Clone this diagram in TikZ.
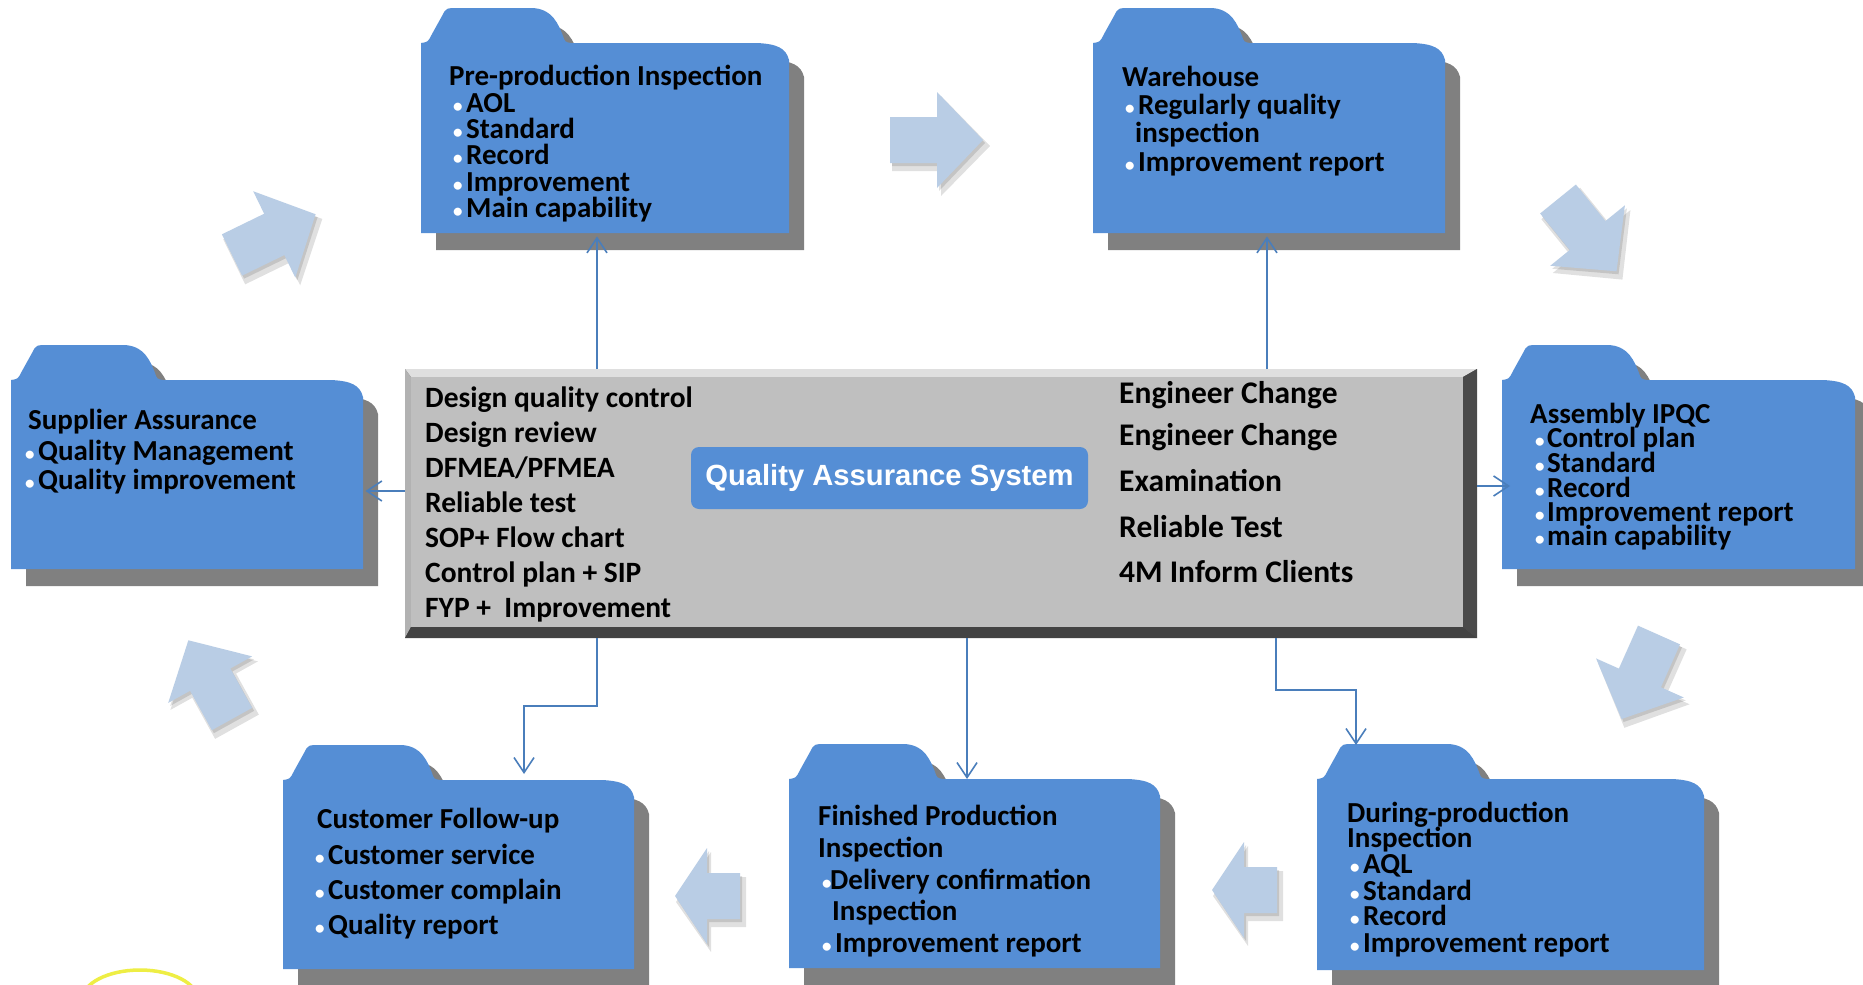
\documentclass[tikz,border=0pt]{standalone}
\usepackage{fontspec}
\setmainfont{Carlito}
\newfontfamily\qafont{Liberation Sans}
\usetikzlibrary{arrows.meta,calc}
\definecolor{fblue}{HTML}{558ED5}
\definecolor{cline}{HTML}{4A7EBB}
\definecolor{barrowc}{HTML}{B9CDE5}
\definecolor{fshadow}{HTML}{808080}
\definecolor{ygold}{HTML}{EEEE44}
\newcount\tn
\tikzset{
  ftext/.style={anchor=base west, inner sep=0pt, font=\fontsize{29}{32}\selectfont\bfseries, text=black},
  btext/.style={anchor=base west, inner sep=0pt, font=\fontsize{19}{20}\selectfont\bfseries, text=white},
  ctext/.style={anchor=base west, inner sep=0pt, font=\fontsize{29.5}{32}\selectfont\bfseries, text=black},
  rtext/.style={anchor=base west, inner sep=0pt, font=\fontsize{31.5}{34}\selectfont\bfseries, text=black},
  conn/.style={draw=cline, line width=1.6pt, -{Straight Barb[length=15pt,width=20pt,line width=1.6pt]}},
  holder/.style={inner sep=0pt, anchor=north west}
}
\newcommand\ftx[3]{\global\advance\tn by 1 \node[ftext] (t\the\tn) at (#1,#2) {#3};}
\newcommand\fbl[4]{\global\advance\tn by 1 \node[btext] (t\the\tn) at (#1,#3) {•};
  \global\advance\tn by 1 \node[ftext] (t\the\tn) at (#2,#3) {#4};}
\newcommand\ctx[4]{\global\advance\tn by 1 \node[#1] (t\the\tn) at (#2,#3) {#4};}
% folder: name L T R B tabwidth
\newcommand\folder[6]{%
  \begin{scope}[shift={(15,17)}]
  \fill[fshadow] (#2,#3+35) .. controls (#2+7,#3+34) .. (#2+11,#3+26) -- (#2+21,#3+8) .. controls (#2+25,#3) .. (#2+38,#3) -- (#2+#6-40,#3) .. controls (#2+#6-18,#3) and (#2+#6-12,#3+18) .. (#2+#6-8,#3+28) .. controls (#2+#6-6,#3+34) .. (#2+#6,#3+35) -- (#4-32,#3+35) .. controls (#4-12,#3+36) and (#4-3,#3+40) .. (#4,#3+52) -- (#4,#5) -- (#2,#5) -- cycle;
  \end{scope}
  \fill[fblue] (#2,#3+35) .. controls (#2+7,#3+34) .. (#2+11,#3+26) -- (#2+21,#3+8) .. controls (#2+25,#3) .. (#2+38,#3) -- (#2+#6-40,#3) .. controls (#2+#6-18,#3) and (#2+#6-12,#3+18) .. (#2+#6-8,#3+28) .. controls (#2+#6-6,#3+34) .. (#2+#6,#3+35) -- (#4-32,#3+35) .. controls (#4-12,#3+36) and (#4-3,#3+40) .. (#4,#3+52) -- (#4,#5) -- (#2,#5) -- cycle;
  \node[holder, minimum width={#4-#2}, minimum height={#5-#3-35}] (#1) at (#2,#3+35) {};
}
% block arrow: x y angle headstart tip
\newcommand\barrow[5]{%
  \begin{scope}[shift={(#1+4,#2+6)}, rotate=#3]
    \fill[black, opacity=0.12] (-2,-25) -- (#4,-25) -- (#4,-50) -- (#5+3,0) -- (#4,50) -- (#4,25) -- (-2,25) -- cycle;
  \end{scope}
  \begin{scope}[shift={(#1+2,#2+3)}, rotate=#3]
    \fill[black, opacity=0.12] (0,-23) -- (#4,-23) -- (#4,-48) -- (#5,0) -- (#4,48) -- (#4,23) -- (0,23) -- cycle;
  \end{scope}
  \begin{scope}[shift={(#1,#2)}, rotate=#3]
    \fill[barrowc] (0,-23) -- (#4,-23) -- (#4,-48) -- (#5,0) -- (#4,48) -- (#4,23) -- (0,23) -- cycle;
  \end{scope}
}
\begin{document}
\begin{tikzpicture}[x=1pt, y=-1pt]
\useasboundingbox (0,0) rectangle (1863,985);
\fill[white] (0,0) rectangle (1863,985);
\begin{scope}
\clip (0,0) rectangle (1863,985);
% yellow arc
\draw[ygold, line width=3.5pt] (140,1000) ellipse [x radius=58, y radius=30];
% block arrows
\barrow{890}{140}{0}{47}{93}
\barrow{232}{255}{26}{47}{93}
\barrow{1558}{199}{-51}{47}{93}
\barrow{1659}{635}{-114}{47}{92}
\barrow{1277}{890}{180}{33}{65}
\barrow{740}{896}{180}{33}{65}
\barrow{232}{719}{119}{45}{90}
% folders
\folder{pre}{421}{8}{789}{233}{150}
\folder{ware}{1093}{8}{1445}{233}{157}
\folder{sup}{11}{345}{363}{569}{152}
\folder{asm}{1502}{345}{1855}{569}{145}
\folder{dur}{1317}{744}{1704}{970}{170}
\folder{fin}{789}{744}{1160}{968}{154}
\folder{cust}{283}{745}{634}{969}{157}
\end{scope}
% centre bevelled box
\node[holder, minimum width=1072pt, minimum height=269pt] (qa) at (405,369) {};
\fill[gray!50!black!80] (405,369) rectangle (1477,638);
\fill[gray!25] (405,369) -- (1477,369) -- (1463,377) -- (411,377) -- cycle;
\fill[gray!60] (405,369) -- (411,377) -- (411,627) -- (405,638) -- cycle;
\fill[gray!95!white!55!black] (1477,369) -- (1463,377) -- (1463,627) -- (1477,638) -- cycle;
\fill[gray!95!white!50!black] (405,638) -- (411,627) -- (1463,627) -- (1477,638) -- cycle;
\fill[gray!50] (411,377) rectangle (1463,627);
% connectors
\coordinate (x1) at (597,0);
\coordinate (x2) at (1267,0);
\coordinate (x3) at (967,0);
\coordinate (x4) at (1276,0);
\coordinate (y1) at (0,491);
\coordinate (y2) at (0,486);
\coordinate (j1) at (524,706);
\coordinate (j2) at (1356,690);
\draw[conn] (qa.north -| x1) -- ([yshift=-3pt]pre.south -| x1);
\draw[conn] (qa.north -| x2) -- ([yshift=-3pt]ware.south -| x2);
\draw[conn] (qa.west |- y1) -- ([xshift=2pt]sup.east |- y1);
\draw[conn] (qa.east |- y2) -- ([xshift=8pt]asm.west |- y2);
\draw[conn] (qa.south -| x1) |- (j1) -- ([yshift=6pt]cust.north -| j1);
\draw[conn] (qa.south -| x3) -- (fin.north -| x3);
\draw[conn] (qa.south -| x4) |- (j2) -- ([yshift=34pt]dur.north -| j2);
% centre label
\node[fill=fblue, rounded corners=8pt, minimum width=397pt, minimum height=62pt, inner sep=0pt,
      font=\qafont\fontsize{29.2}{31}\selectfont\bfseries, text=white] (qas) at (889.5,478) {Quality Assurance System};
% centre texts
\ctx{ctext}{425}{407}{Design quality control}
\ctx{ctext}{425}{442}{Design review}
\ctx{ctext}{425}{477}{DFMEA/PFMEA}
\ctx{ctext}{425}{512}{Reliable test}
\ctx{ctext}{425}{547}{SOP+ Flow chart}
\ctx{ctext}{425}{582}{Control plan + SIP}
\ctx{ctext}{425}{617}{FYP +\ \ Improvement}
\ctx{rtext}{1119}{403}{Engineer Change}
\ctx{rtext}{1119}{445}{Engineer Change}
\ctx{rtext}{1119}{491}{Examination}
\ctx{rtext}{1119}{537}{Reliable Test}
\ctx{rtext}{1119}{582}{4M Inform Clients}
% folder texts
\ftx{449}{85}{Pre-production Inspection}
\fbl{453}{466}{112}{AOL}
\fbl{453}{466}{138}{Standard}
\fbl{453}{466}{164}{Record}
\fbl{453}{466}{191}{Improvement}
\fbl{453}{466}{217}{Main capability}
\ftx{1122}{86}{Warehouse}
\fbl{1125}{1138}{114}{Regularly quality}
\ftx{1135}{142}{inspection}
\fbl{1125}{1138}{171}{Improvement report}
\ftx{28}{429}{Supplier Assurance}
\fbl{25}{38}{460}{Quality Management}
\fbl{25}{38}{489}{Quality improvement}
\ftx{1530}{423}{Assembly IPQC}
\fbl{1535}{1547}{447}{Control plan}
\fbl{1535}{1547}{472}{Standard}
\fbl{1535}{1547}{497}{Record}
\fbl{1535}{1547}{521}{Improvement report}
\fbl{1535}{1547}{545}{main capability}
\ftx{1347}{822}{During-production}
\ftx{1347}{847}{Inspection}
\fbl{1350}{1363}{873}{AQL}
\fbl{1350}{1363}{900}{Standard}
\fbl{1350}{1363}{925}{Record}
\fbl{1350}{1363}{952}{Improvement report}
\ftx{818}{825}{Finished Production}
\ftx{818}{857}{Inspection}
\fbl{822}{830}{889}{Delivery confirmation}
\ftx{832}{920}{Inspection}
\fbl{822}{835}{952}{Improvement report}
\ftx{317}{828}{Customer Follow-up}
\fbl{315}{328}{864}{Customer service}
\fbl{315}{328}{899}{Customer complain}
\fbl{315}{328}{934}{Quality report}
\end{tikzpicture}
\end{document}
